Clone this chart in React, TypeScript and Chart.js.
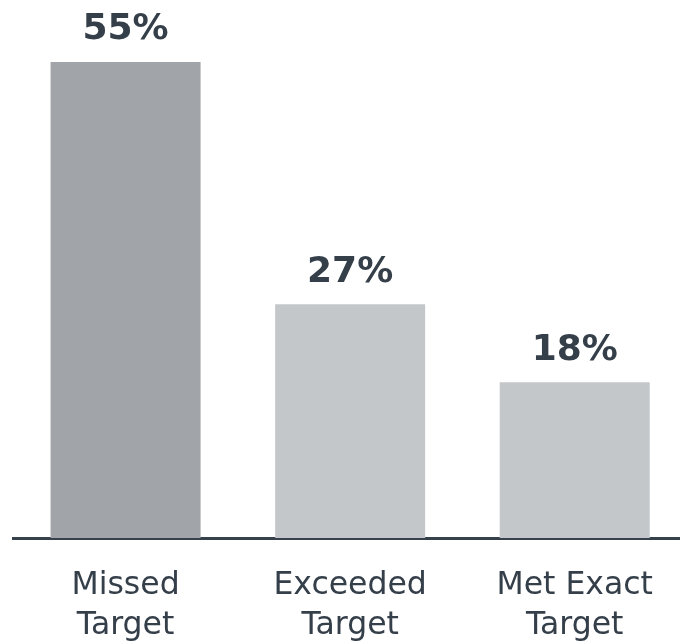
import React, { useEffect, useRef } from "react";
import { Chart, registerables } from "chart.js";

Chart.register(...registerables);

const categories: string[][] = [
  ["Missed", "Target"],
  ["Exceeded", "Target"],
  ["Met Exact", "Target"],
];
const values: number[] = [55, 27, 18];
const barColors: string[] = ["#a1a4a8", "#c4c7ca", "#c4c7ca"];
const valueSuffix = "%";

const TEXT_COLOR = "#353f4a";

const valueLabelPlugin = {
  id: "valueLabels",
  afterDatasetsDraw(chart: any) {
    const ctx = chart.ctx;
    const meta = chart.getDatasetMeta(0);
    ctx.save();
    ctx.font = "bold 36px 'DejaVu Sans'";
    ctx.fillStyle = TEXT_COLOR;
    ctx.textAlign = "center";
    ctx.textBaseline = "alphabetic";
    meta.data.forEach((bar: any, i: number) => {
      const v = chart.data.datasets[0].data[i];
      ctx.fillText(`${v}${valueSuffix}`, bar.x, bar.y - 22.5);
    });
    ctx.restore();
  },
};

export default function App() {
  const canvasRef = useRef<HTMLCanvasElement | null>(null);

  useEffect(() => {
    if (!canvasRef.current) return;
    const chart = new Chart(canvasRef.current, {
      type: "bar",
      data: {
        labels: categories,
        datasets: [
          {
            data: values,
            backgroundColor: barColors,
            borderWidth: 0,
            barPercentage: 1,
            categoryPercentage: 0.668,
          },
        ],
      },
      options: {
        animation: false,
        responsive: false,
        maintainAspectRatio: false,
        devicePixelRatio: 1,
        layout: { padding: { top: 18.7, left: 13.3, right: 0, bottom: 0 } },
        plugins: {
          legend: { display: false },
          tooltip: { enabled: false },
        },
        scales: {
          x: {
            grid: { display: false, drawTicks: false },
            border: { display: true, color: "#36414b", width: 3 },
            ticks: {
              color: TEXT_COLOR,
              padding: 28,
              maxRotation: 0,
              autoSkip: false,
              font: { family: "'DejaVu Sans'", size: 31.5, lineHeight: "40px" },
            },
          },
          y: {
            display: false,
            min: 0,
            max: 60,
          },
        },
      },
      plugins: [valueLabelPlugin],
    });
    return () => chart.destroy();
  }, []);

  return (
    <div
      style={{
        position: "fixed",
        left: 0,
        top: 0,
        width: 680,
        height: 641,
        overflow: "hidden",
        background: "#ffffff",
      }}
    >
      <canvas
        ref={canvasRef}
        width={687}
        height={674}
        style={{ display: "block", width: 687, height: 674 }}
      />
    </div>
  );
}
